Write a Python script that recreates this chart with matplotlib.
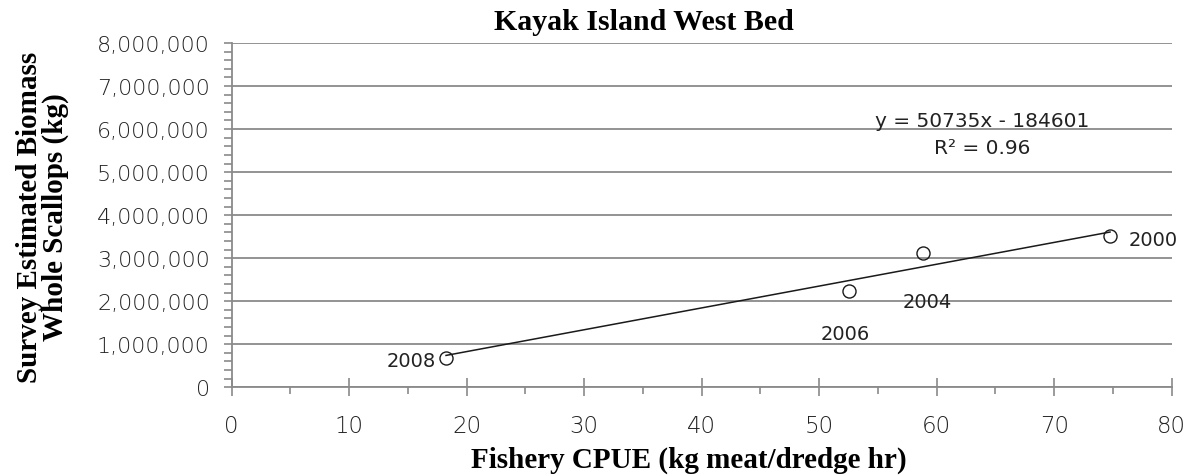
import matplotlib
matplotlib.use("Agg")
import matplotlib.pyplot as plt
from matplotlib.ticker import MultipleLocator, FuncFormatter

# Survey biomass vs. fishery CPUE, Kayak Island West Bed
years = ["2000", "2004", "2006", "2008"]
cpue = [74.75, 58.8, 52.56, 18.24]                  # kg meat / dredge hr
biomass = [3520000, 3120000, 2240000, 690000]       # kg whole scallops

# Linear trendline as reported on the chart
slope = 50735
intercept = -184601
r_squared = 0.96

# Label offsets (points) for each year's annotation
label_offsets = {"2000": (13.5, -2.5, "left"),
                 "2004": (3.5, -34.8, "center"),
                 "2006": (-3.0, -30.5, "center"),
                 "2008": (-7.5, -2.0, "right")}

serif_bold = dict(family=["Liberation Serif", "DejaVu Serif"], weight="bold")
sans = ["DejaVu Sans"]
grid_col = "#8a8a8a"
text_col = "#222222"

fig = plt.figure(figsize=(11.91, 4.77), dpi=100)
ax = fig.add_axes([0.19455, 0.18595, 0.78924, 0.72181])

ax.set_xlim(0, 80)
ax.set_ylim(0, 8000000)

ax.xaxis.set_major_locator(MultipleLocator(10))
ax.xaxis.set_minor_locator(MultipleLocator(5))
ax.yaxis.set_major_locator(MultipleLocator(1000000))
ax.yaxis.set_minor_locator(MultipleLocator(200000))
ax.yaxis.set_major_formatter(FuncFormatter(lambda v, p: f"{int(v):,}"))

ax.grid(axis="y", which="major", color=grid_col, linewidth=1.3)
ax.set_axisbelow(True)

for side in ("top", "right"):
    ax.spines[side].set_visible(False)
for side in ("left", "bottom"):
    ax.spines[side].set_color(grid_col)
    ax.spines[side].set_linewidth(1.3)

ax.tick_params(axis="x", which="major", direction="inout", length=13,
               width=1.2, color=grid_col, pad=13, labelsize=16.5,
               labelcolor=text_col)
ax.tick_params(axis="x", which="minor", direction="out", length=5,
               width=1.2, color=grid_col)
ax.tick_params(axis="y", which="both", direction="out", length=5.8,
               width=1.2, color=grid_col)
ax.tick_params(axis="y", which="major", pad=9.9, labelsize=16,
               labelcolor=text_col)
for lbl in ax.get_xticklabels() + ax.get_yticklabels():
    lbl.set_family(sans)
    lbl.set_fontweight("light")

# Trendline across the observed CPUE range
x0, x1 = min(cpue), max(cpue)
ax.plot([x0, x1], [slope * x0 + intercept, slope * x1 + intercept],
        color="#1a1a1a", linewidth=1.1, zorder=3)

# Observations as open circles
ax.plot(cpue, biomass, linestyle="none", marker="o", markersize=9.4,
        markerfacecolor="none", markeredgecolor="#1a1a1a",
        markeredgewidth=1.0, zorder=4)

for yr, xv, yv in zip(years, cpue, biomass):
    dx, dy, ha = label_offsets[yr]
    ax.annotate(yr, (xv, yv), xytext=(dx, dy), textcoords="offset points",
                ha=ha, va="center", fontsize=14, color=text_col,
                family=sans, zorder=5)

eq_sign = "-" if intercept < 0 else "+"
ax.text(0.798, 0.775, f"y = {slope}x {eq_sign} {abs(intercept)}",
        transform=ax.transAxes, ha="center", va="center", fontsize=14.5,
        color=text_col, family=sans)
ax.text(0.798, 0.6965, f"R² = {r_squared:.2f}",
        transform=ax.transAxes, ha="center", va="center", fontsize=14.5,
        color=text_col, family=sans)

fig.text(643.5 / 1191, 1 - 30 / 477, "Kayak Island West Bed",
         ha="center", va="baseline", fontsize=21.5, color="black", **serif_bold)
fig.text(689 / 1191, 1 - 468 / 477, "Fishery CPUE (kg meat/dredge hr)",
         ha="center", va="baseline", fontsize=21, color="black", **serif_bold)
fig.text(42.5 / 1191, 1 - 217 / 477,
         "Survey Estimated Biomass\nWhole Scallops (kg)",
         ha="center", va="center", rotation=90, linespacing=0.98,
         fontsize=21, color="black", **serif_bold)

fig.savefig("out.png", dpi=100, facecolor="white")
